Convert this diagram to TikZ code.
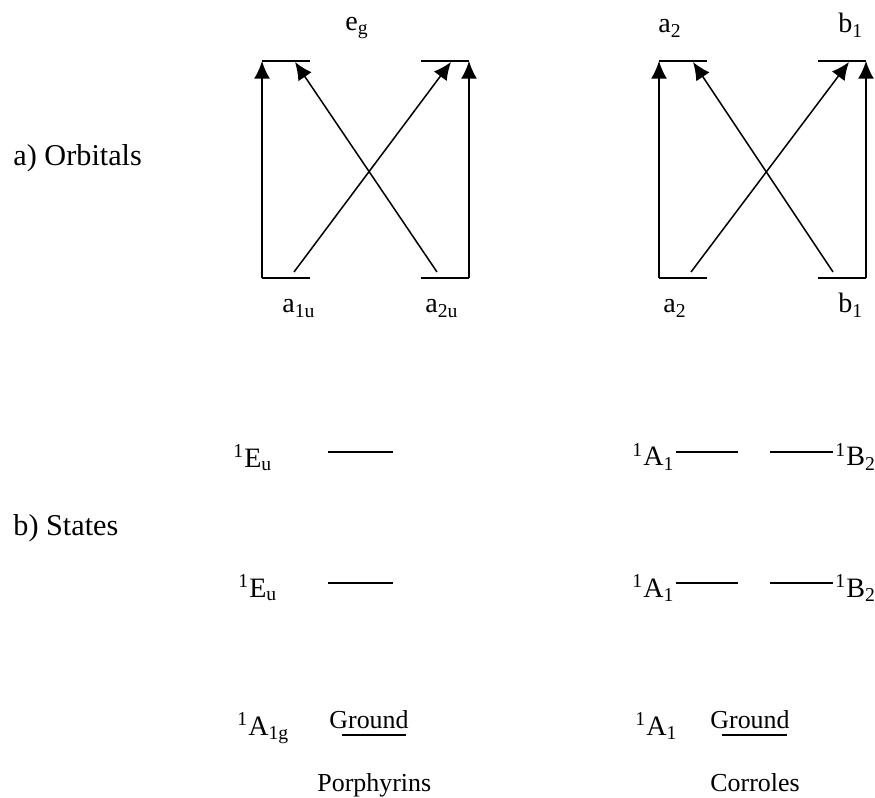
\documentclass[tikz,border=0pt]{standalone}
\usepackage{fontspec}
\setmainfont{Liberation Serif}
\usetikzlibrary{arrows.meta}
\newcommand{\lsub}[1]{\textsubscript{#1}}
\newcommand{\lsup}[1]{\textsuperscript{#1}}
\begin{document}
\begin{tikzpicture}[x=0.463pt,y=-0.463pt,line join=round,
  level/.style={line width=0.9pt},
  trans/.style={line width=0.7pt,-{Latex[length=8.2pt,width=7.4pt]}},
  lab/.style={anchor=base west,inner sep=0pt,font=\fontsize{13}{15}\selectfont},
  small/.style={anchor=base west,inner sep=0pt,font=\fontsize{12}{14}\selectfont},
  side/.style={anchor=base west,inner sep=0pt,font=\fontsize{14}{16}\selectfont}]
  \useasboundingbox (0,0) rectangle (875,798);
  % energy levels
  \foreach \n/\x/\y/\w in {pegL/262/61/48, pegR/421/61/48, pa1u/262/278/48, pa2u/421/278/48,
      ca2t/659/61/48, cb1t/818/61/48, ca2b/659/278/48, cb1b/818/278/48,
      pE2/328/452/65, pE1/328/583/65, pG/342/735/64,
      cA2/676/452/62, cB2/770/452/63, cA1/676/583/62, cB1/770/583/63, cG/722/735/65}
    \draw[level] (\x,\y) coordinate (\n) -- ++(\w,0) coordinate (\n-r);
  % porphyrin transitions
  \coordinate (pxa) at (294,272);
  \coordinate (pxb) at (437,272);
  \coordinate (pxc) at (451,62);
  \coordinate (pxd) at (295,62);
  \draw[trans] (pa1u) -- (pegL);
  \draw[trans] (pa2u-r) -- (pegR-r);
  \draw[trans] (pxa) -- (pxc);
  \draw[trans] (pxb) -- (pxd);
  % corrole transitions
  \coordinate (cxa) at (691,272);
  \coordinate (cxb) at (833,272);
  \coordinate (cxc) at (849,62);
  \coordinate (cxd) at (693,62);
  \draw[trans] (ca2b) -- (ca2t);
  \draw[trans] (cb1b-r) -- (cb1t-r);
  \draw[trans] (cxa) -- (cxc);
  \draw[trans] (cxb) -- (cxd);
  % labels
  \node[side] (orb) at (13,166) {a) Orbitals};
  \node[side] (sta) at (13,535) {b) States};
  \node[lab] (eg) at (345,31) {e\lsub{g}};
  \node[lab] (a2t) at (658,33) {a\lsub{2}};
  \node[lab] (b1t) at (838,33) {b\lsub{1}};
  \node[lab] (a1u) at (282,313) {a\lsub{1u}};
  \node[lab] (a2u) at (425,313) {a\lsub{2u}};
  \node[lab] (a2b) at (663,313) {a\lsub{2}};
  \node[lab] (b1b) at (838,313) {b\lsub{1}};
  \node[lab] (Eu2) at (233,467) {\lsup{1}E\lsub{u}};
  \node[lab] (Eu1) at (238,597) {\lsup{1}E\lsub{u}};
  \node[lab] (A1g) at (237,735) {\lsup{1}A\lsub{1g}};
  \node[lab] (A12) at (632,466) {\lsup{1}A\lsub{1}};
  \node[lab] (A11) at (632,597) {\lsup{1}A\lsub{1}};
  \node[lab] (B22) at (835,466) {\lsup{1}B\lsub{2}};
  \node[lab] (B21) at (835,597) {\lsup{1}B\lsub{2}};
  \node[lab] (A10) at (635,735) {\lsup{1}A\lsub{1}};
  \node[small] (pgr) at (329,728) {Ground};
  \node[small] (cgr) at (710,728) {Ground};
  \node[small] (por) at (317,791) {Porphyrins};
  \node[small] (cor) at (710,791) {Corroles};
\end{tikzpicture}
\end{document}
